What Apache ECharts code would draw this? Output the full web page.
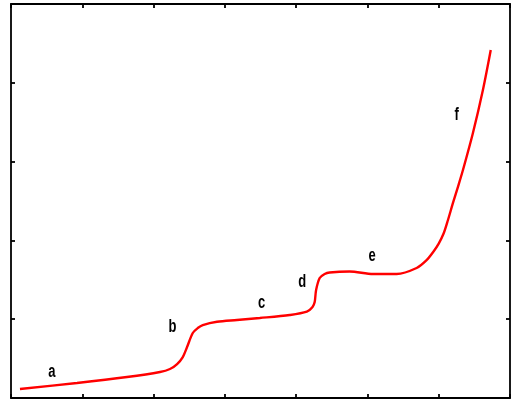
<!DOCTYPE html>
<html><head><meta charset="utf-8">
<script src="https://cdn.jsdelivr.net/npm/echarts@6/dist/echarts.min.js"></script>
<style>html,body{margin:0;padding:0;background:#fff}#c{width:512px;height:403px}</style>
</head><body><div id="c"></div>
<script>
const xValues = [0.126,0.926,1.627,2.09,2.23,2.33,2.41,2.47,2.55,2.62,2.69,2.89,3.17,3.49,3.91,4.15,4.23,4.26,4.28,4.33,4.40,4.47,4.75,5.08,5.41,5.69,5.83,5.92,6.00,6.07,6.13,6.20,6.27,6.34,6.48,6.62,6.73];
const yValues = [0.114,0.190,0.266,0.330,0.368,0.431,0.520,0.647,0.825,0.888,0.926,0.968,0.990,1.015,1.053,1.095,1.155,1.218,1.371,1.523,1.574,1.593,1.605,1.574,1.574,1.650,1.750,1.850,1.960,2.090,2.259,2.475,2.680,2.893,3.363,3.909,4.416];
const labelNames = ['a','b','c','d','e','f'];
const labelX = [0.575,2.265,3.515,4.086,5.067,6.251];
const labelY = [0.33,0.901,1.202,1.468,1.802,3.591];

const chart = echarts.init(document.getElementById('c'), null, {renderer:'canvas'});
const axisCommon = {
  axisLine:{show:true,onZero:false,lineStyle:{color:'#000',width:1.8}},
  axisTick:{show:true,inside:true,length:4,lineStyle:{color:'#000',width:1.8}},
  axisLabel:{show:false}, splitLine:{show:false}
};
chart.setOption({
  backgroundColor:'#fff',
  animation:false,
  grid:{left:11,right:2,top:4,bottom:5},
  xAxis:[
    Object.assign({type:'value',min:0,max:7,interval:1,position:'bottom'},axisCommon),
    Object.assign({type:'value',min:0,max:7,interval:1,position:'top'},axisCommon)
  ],
  yAxis:[
    Object.assign({type:'value',min:0,max:5,interval:1,position:'left'},axisCommon),
    Object.assign({type:'value',min:0,max:5,interval:1,position:'right'},axisCommon)
  ],
  series:[
    {type:'line',smooth:0.3,showSymbol:false,symbol:'none',
     lineStyle:{color:'#ff0000',width:2.4},
     data:xValues.map((x,i)=>[x,yValues[i]])},
    {type:'custom',
     data:labelX.map((x,i)=>[x,labelY[i],labelNames[i]]),
     renderItem:function(params, api){
       const pt = api.coord([api.value(0), api.value(1)]);
       return {type:'text', x:pt[0], y:pt[1], scaleX:1.0, scaleY:1.38,
         style:{text: labelNames[params.dataIndex], fill:'#000',
           font:'bold 13px "Liberation Sans", Arial, sans-serif',
           align:'center', verticalAlign:'middle'}};
     }}
  ]
});
</script></body></html>
